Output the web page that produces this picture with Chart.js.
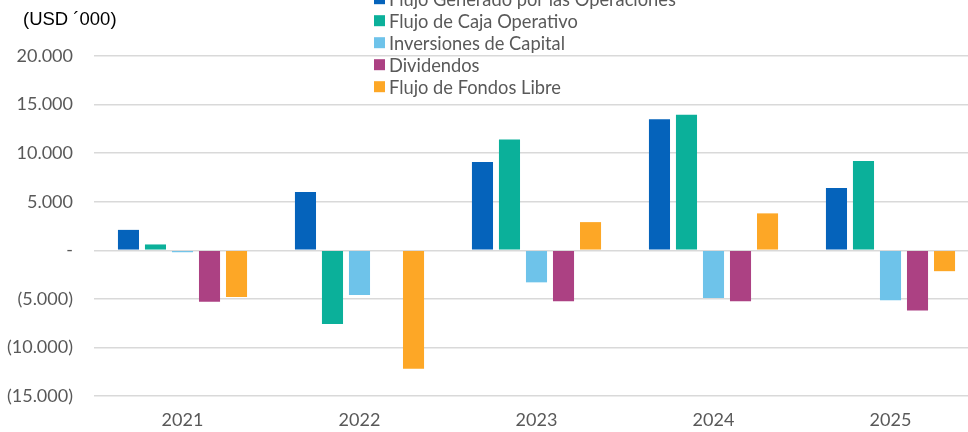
<!DOCTYPE html>
<html>
<head>
<meta charset="utf-8">
<script src="https://cdn.jsdelivr.net/npm/chart.js@4"></script>
<style>
    html, body { margin: 0; padding: 0; overflow: hidden; background: #fff; }
    #wrap { width: 979px; height: 432px; }
</style>
</head>
<body>
<div id="wrap"><canvas id="cashChart"></canvas></div>
<script>
// datos del gráfico (USD '000)
const years = ['2021', '2022', '2023', '2024', '2025'];
const seriesNames = [
    'Flujo Generado por las Operaciones',
    'Flujo de Caja Operativo',
    'Inversiones de Capital',
    'Dividendos',
    'Flujo de Fondos Libre'
];
const flujoGenerado = [2100, 6000, 9100, 13500, 6400];
const flujoCaja = [600, -7600, 11400, 13950, 9200];
const inversiones = [-200, -4600, -3300, -4900, -5150];
const dividendos = [-5300, 0, -5250, -5250, -6200];
const fondosLibre = [-4800, -12200, 2900, 3800, -2150];
const yTicks = [-15000, -10000, -5000, 0, 5000, 10000, 15000, 20000];
const colors = ['#0563BB', '#0BB09A', '#6EC3EA', '#AC4183', '#FDA726'];

const allSeries = [flujoGenerado, flujoCaja, inversiones, dividendos, fondosLibre];

const formatTick = (v) => {
    if (v === 0) return '-';
    const s = Math.abs(v).toLocaleString('de-DE');
    return v < 0 ? `(${s})` : s;
};

// leyenda vertical y unidad dibujadas a mano
const customLegend = {
    id: 'customLegend',
    afterDraw(chart) {
        const c = chart.ctx;
        c.save();
        c.font = '18.5px "Liberation Sans", Arial, sans-serif';
        c.fillStyle = '#000';
        c.textBaseline = 'middle';
        c.textAlign = 'left';
        c.fillText('(USD ´000)', 23, 20);

        c.font = '18.3px Lato, sans-serif';
        chart.data.datasets.forEach((ds, i) => {
            const y = -1.3 + i * 22;
            c.fillStyle = ds.backgroundColor;
            c.fillRect(374, y - 5.5, 11, 11);
            c.fillStyle = '#595959';
            c.fillText(ds.label, 389, y + 1);
        });
        c.restore();
    }
};

const ctx = document.getElementById('cashChart').getContext('2d');
new Chart(ctx, {
    type: 'bar',
    data: {
        labels: years,
        datasets: allSeries.map((vals, i) => ({
            label: seriesNames[i],
            data: vals,
            backgroundColor: colors[i],
            borderWidth: 0
        }))
    },
    options: {
        responsive: true,
        maintainAspectRatio: false,
        animation: false,
        categoryPercentage: 0.763,
        barPercentage: 0.78,
        layout: { padding: { top: 56, bottom: 3, left: 0, right: 0 } },
        plugins: {
            legend: { display: false },
            tooltip: { enabled: false }
        },
        scales: {
            x: {
                afterFit: (s) => { s.height = 33; },
                grid: { display: false, drawTicks: false },
                border: { display: false },
                ticks: { color: '#595959', font: { family: 'Lato', size: 18 }, padding: 13 }
            },
            y: {
                min: -15000,
                max: 20000,
                afterBuildTicks: (s) => { s.ticks = yTicks.map(v => ({ value: v })); },
                afterFit: (s) => { s.width = 94; },
                grid: { color: '#D9D9D9', lineWidth: 1.5, drawTicks: false },
                border: { display: false },
                ticks: {
                    color: '#595959',
                    font: { family: 'Lato', size: 18 },
                    padding: 21,
                    callback: (v) => formatTick(v)
                }
            }
        }
    },
    plugins: [customLegend]
});
</script>
</body>
</html>
